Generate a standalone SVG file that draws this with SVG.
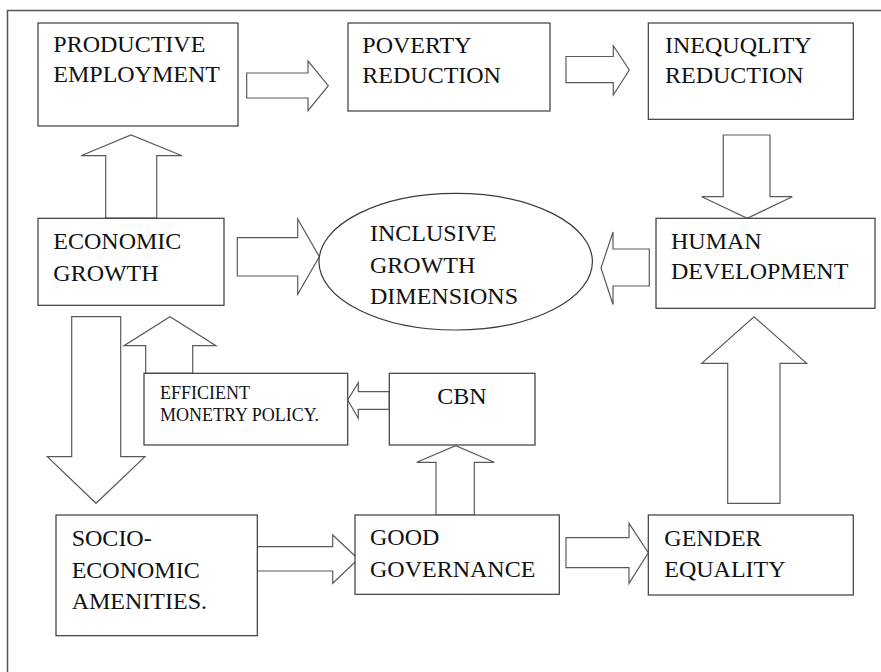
<svg xmlns="http://www.w3.org/2000/svg" width="881" height="672" viewBox="0 0 881 672">
<style>
.box{fill:#fff;stroke:#3a3a3a;stroke-width:1.2}
.arr{fill:#fff;stroke:#5a5a5a;stroke-width:1.2;stroke-linejoin:miter}
.frame{fill:none;stroke:#555;stroke-width:1.5}
text{font-family:"Liberation Serif","Times New Roman",serif;font-size:24px;fill:#111}
.sm{font-size:18px}
</style>
<rect x="0" y="0" width="881" height="672" fill="#fff"/>
<path class="frame" d="M7.5,672 V10.5 H881"/>
<g id="connectors">
<polygon class="arr" points="246.7,73 308,73 308,61 328.3,85.7 308,110.7 308,98 246.7,98"/>
<polygon class="arr" points="566,56.5 613.3,56.5 613.3,45.7 629.3,70 613.3,95 613.3,82.7 566,82.7"/>
<polygon class="arr" points="723.3,135 770,135 770,196.7 792.3,196.7 747.3,218.3 701.7,196.7 723.3,196.7"/>
<polygon class="arr" points="649.3,249 613,249 613,232 601,268 613,304.5 613,286 649.3,286"/>
<polygon class="arr" points="237.3,237.7 297.7,237.7 297.7,219 319.3,256.7 297.7,294.3 297.7,276 237.3,276"/>
<polygon class="arr" points="105.7,218 105.7,155.7 81,155.7 131,135 182,155.7 156.7,155.7 156.7,218"/>
<polygon class="arr" points="71.7,316.7 120.7,316.7 120.7,456.7 145,456.7 96,503.3 47.3,456.7 71.7,456.7"/>
<polygon class="arr" points="145.7,373.3 145.7,345.7 124,345.7 170,316.7 216,345.7 192.7,345.7 192.7,373.3"/>
<polygon class="arr" points="389.3,391.7 358.3,391.7 358.3,382.7 347.7,400 358.3,418.3 358.3,409.3 389.3,409.3"/>
<polygon class="arr" points="436,515 436,462.3 416.7,462.3 455.7,445.7 494.3,462.3 474.3,462.3 474.3,515"/>
<polygon class="arr" points="257.3,546.7 332.7,546.7 332.7,535 358.3,559 332.7,583.3 332.7,571 257.3,571"/>
<polygon class="arr" points="566,537.7 629,537.7 629,523.3 648.3,552.7 629,583.3 629,567.7 566,567.7"/>
<polygon class="arr" points="727.7,503.3 727.7,363.3 701.7,363.3 754,316.7 806.7,363.3 780,363.3 780,503.3"/>
</g>
<g id="productive-employment">
<rect class="box" x="38" y="23" width="200" height="103"/>
<text x="53.3" y="52.3">PRODUCTIVE</text>
<text x="53.3" y="82.3">EMPLOYMENT</text>
</g>
<g id="poverty-reduction">
<rect class="box" x="348" y="23" width="202" height="88"/>
<text x="362.3" y="52.7">POVERTY</text>
<text x="362.3" y="82.7">REDUCTION</text>
</g>
<g id="inequality-reduction">
<rect class="box" x="648.3" y="23" width="205" height="96.3"/>
<text x="665" y="52.7">INEQUQLITY</text>
<text x="665" y="82.7">REDUCTION</text>
</g>
<g id="economic-growth">
<rect class="box" x="38" y="218.3" width="186" height="87"/>
<text x="53.3" y="249">ECONOMIC</text>
<text x="53.3" y="280.7">GROWTH</text>
</g>
<g id="inclusive-growth">
<ellipse class="box" cx="455.7" cy="261.7" rx="136.7" ry="68.3"/>
<text x="370" y="240.7">INCLUSIVE</text>
<text x="370" y="272.7">GROWTH</text>
<text x="370" y="304">DIMENSIONS</text>
</g>
<g id="human-development">
<rect class="box" x="656" y="218.3" width="219" height="90"/>
<text x="671" y="249.3">HUMAN</text>
<text x="671" y="279.3">DEVELOPMENT</text>
</g>
<g id="efficient-monetary-policy">
<rect class="box" x="144" y="373.3" width="203.7" height="71.7"/>
<text class="sm" x="160" y="399">EFFICIENT</text>
<text class="sm" x="160" y="421">MONETRY POLICY.</text>
</g>
<g id="cbn">
<rect class="box" x="389.3" y="373.3" width="145.7" height="71.7"/>
<text x="437.3" y="404">CBN</text>
</g>
<g id="socio-economic-amenities">
<rect class="box" x="56" y="515" width="201.3" height="120.7"/>
<text x="71.7" y="546">SOCIO-</text>
<text x="71.7" y="577.7">ECONOMIC</text>
<text x="71.7" y="609">AMENITIES.</text>
</g>
<g id="good-governance">
<rect class="box" x="355" y="515" width="204.3" height="79.3"/>
<text x="370" y="545">GOOD</text>
<text x="370" y="576.7">GOVERNANCE</text>
</g>
<g id="gender-equality">
<rect class="box" x="648.3" y="515" width="205" height="80"/>
<text x="664.3" y="545.7">GENDER</text>
<text x="664.3" y="576.7">EQUALITY</text>
</g>
</svg>
